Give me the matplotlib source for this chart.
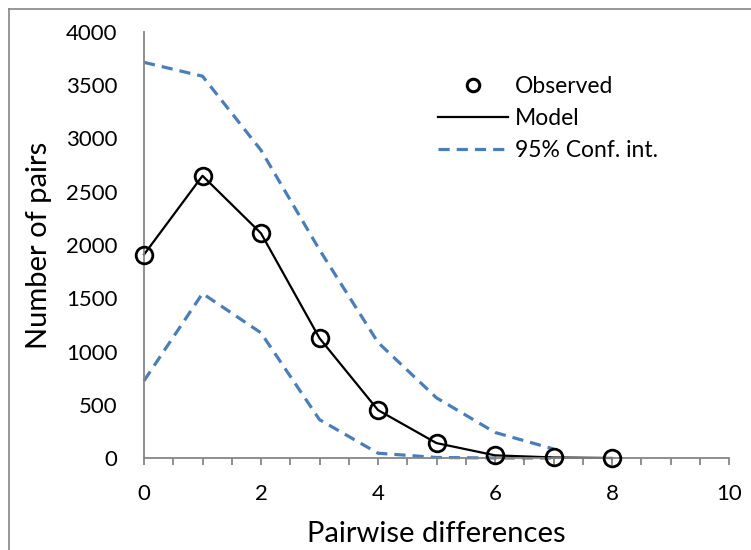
import numpy as np
import matplotlib
matplotlib.use("Agg")
import matplotlib.pyplot as plt
from matplotlib.lines import Line2D

# mismatch distribution: observed counts, fitted model and 95% envelope
diffs = [0, 1, 2, 3, 4, 5, 6, 7, 8]
observed = [1910, 2650, 2110, 1125, 450, 140, 25, 5, 0]
model = [1910, 2650, 2110, 1125, 450, 140, 25, 5, 0]
ci_x = [0, 1, 2, 3, 4, 5, 6, 7]
ci_upper = [3715, 3585, 2890, 1955, 1085, 565, 240, 85]
ci_lower = [725, 1545, 1175, 360, 45, 5, 0, 0]

plt.rcParams["font.family"] = ["Lato", "DejaVu Sans"]
GRAY = "#868686"
BLUE = "#4A7EBB"
DASH = (0, (3.5, 2.2))

fig = plt.figure(figsize=(7.51, 5.5), dpi=100)
ax = fig.add_axes([144/751, 1-458/550, (729-144)/751, (458-32)/550])

ax.plot(ci_x, ci_upper, color=BLUE, lw=2.3, ls=DASH, clip_on=False)
ax.plot(ci_x, ci_lower, color=BLUE, lw=2.3, ls=DASH, clip_on=False)
ax.plot(diffs, model, color="black", lw=1.6, clip_on=False)
ax.plot(diffs, observed, ls="none", marker="o", ms=12, mfc="none", mec="black",
        mew=2.0, clip_on=False, zorder=5)

ax.set_xlim(0, 10)
ax.set_ylim(0, 4000)
ax.set_xticks(np.arange(0, 10.01, 2))
ax.set_xticks(np.arange(0, 10.01, 0.5), minor=True)
ax.set_yticks(np.arange(0, 4001, 500))
ax.tick_params(axis="x", which="both", direction="out", length=5, width=1.3,
               color=GRAY, labelsize=16, pad=14)
ax.tick_params(axis="y", length=0, labelsize=16, pad=19)

for s in ["top", "right"]:
    ax.spines[s].set_visible(False)
for s in ["left", "bottom"]:
    ax.spines[s].set_color(GRAY)
    ax.spines[s].set_linewidth(1.3)

ax.set_xlabel("Pairwise differences", fontsize=21, va="top")
ax.xaxis.set_label_coords(0.5, -0.148)
ax.set_ylabel("Number of pairs", fontsize=21)
ax.yaxis.set_label_coords(-0.158, 0.5)

handles = [
    Line2D([], [], ls="none", marker="o", ms=9, mfc="none", mec="black", mew=2.2),
    Line2D([], [], color="black", lw=1.6),
    Line2D([], [], color=BLUE, lw=2.3, ls=DASH),
]
ax.legend(handles, ["Observed", "Model", "95% Conf. int."], frameon=False,
          fontsize=16.5, loc="center left", bbox_to_anchor=(0.487, 0.796),
          borderaxespad=0, handlelength=3.05, handletextpad=0.3, labelspacing=0.48)

# chart-area frame (only top and left edges fall inside the image)
fig.add_artist(Line2D([9/751, 9/751], [0, 1-9/550], color=GRAY, lw=1.2,
                      transform=fig.transFigure))
fig.add_artist(Line2D([9/751, 1], [1-9/550, 1-9/550], color=GRAY, lw=1.2,
                      transform=fig.transFigure))

fig.savefig("out.png", dpi=100)
